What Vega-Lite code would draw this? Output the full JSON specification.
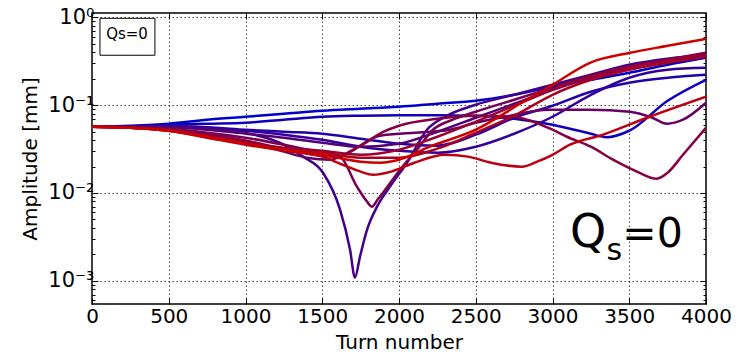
{
"$schema": "https://vega.github.io/schema/vega-lite/v6.json",
"width": 614, "height": 291,
"autosize": {"type": "none"},
"padding": {"left": 92, "top": 13, "right": 35, "bottom": 51},
"background": "white",
"config": {
 "font": "DejaVu Sans",
 "view": {"stroke": "black", "strokeWidth": 1.5},
 "axis": {"domain": false, "labelFont": "DejaVu Sans", "labelFontSize": 20, "labelColor": "black", "titleFont": "DejaVu Sans", "titleFontSize": 20, "titleFontWeight": "normal", "titleColor": "black", "tickColor": "black", "tickWidth": 1, "gridColor": "#444", "gridDash": [1.5, 2.5], "gridWidth": 1}
},
"datasets": {
 "lines": [
 {"s":0,"t":0,"a":0.0567},{"s":0,"t":250,"a":0.0582},{"s":0,"t":500,"a":0.0613},{"s":0,"t":750,"a":0.0681},{"s":0,"t":1000,"a":0.0736},{"s":0,"t":1250,"a":0.0796},{"s":0,"t":1500,"a":0.0861},{"s":0,"t":1750,"a":0.0908},{"s":0,"t":2000,"a":0.0956},{"s":0,"t":2250,"a":0.1035},{"s":0,"t":2500,"a":0.1119},{"s":0,"t":2750,"a":0.1309},{"s":0,"t":3000,"a":0.1614},{"s":0,"t":3250,"a":0.1939},{"s":0,"t":3500,"a":0.2328},{"s":0,"t":3750,"a":0.2871},{"s":0,"t":4000,"a":0.3448},
 {"s":1,"t":0,"a":0.0567},{"s":1,"t":250,"a":0.0574},{"s":1,"t":500,"a":0.0597},{"s":1,"t":750,"a":0.0613},{"s":1,"t":1000,"a":0.0629},{"s":1,"t":1250,"a":0.0681},{"s":1,"t":1500,"a":0.0736},{"s":1,"t":1750,"a":0.0756},{"s":1,"t":2000,"a":0.0766},{"s":1,"t":2250,"a":0.0766},{"s":1,"t":2500,"a":0.0756},{"s":1,"t":2750,"a":0.0699},{"s":1,"t":3000,"a":0.0597},{"s":1,"t":3250,"a":0.0472},{"s":1,"t":3350,"a":0.0431},{"s":1,"t":3500,"a":0.0510},{"s":1,"t":3750,"a":0.1119},{"s":1,"t":4000,"a":0.1939},
 {"s":2,"t":0,"a":0.0567},{"s":2,"t":250,"a":0.0567},{"s":2,"t":500,"a":0.0574},{"s":2,"t":750,"a":0.0559},{"s":2,"t":1000,"a":0.0524},{"s":2,"t":1250,"a":0.0497},{"s":2,"t":1500,"a":0.0472},{"s":2,"t":1750,"a":0.0414},{"s":2,"t":2000,"a":0.0363},{"s":2,"t":2250,"a":0.0345},{"s":2,"t":2500,"a":0.0460},{"s":2,"t":2750,"a":0.0717},{"s":2,"t":3000,"a":0.0982},{"s":2,"t":3250,"a":0.1416},{"s":2,"t":3500,"a":0.1792},{"s":2,"t":3750,"a":0.2043},{"s":2,"t":4000,"a":0.2209},
 {"s":3,"t":0,"a":0.0567},{"s":3,"t":250,"a":0.0567},{"s":3,"t":500,"a":0.0574},{"s":3,"t":750,"a":0.0552},{"s":3,"t":1000,"a":0.0510},{"s":3,"t":1250,"a":0.0460},{"s":3,"t":1500,"a":0.0403},{"s":3,"t":1750,"a":0.0336},{"s":3,"t":2000,"a":0.0302},{"s":3,"t":2250,"a":0.0287},{"s":3,"t":2500,"a":0.0336},{"s":3,"t":2750,"a":0.0472},{"s":3,"t":3000,"a":0.0736},{"s":3,"t":3250,"a":0.1309},{"s":3,"t":3500,"a":0.2043},{"s":3,"t":3750,"a":0.2518},{"s":3,"t":4000,"a":0.2653},
 {"s":4,"t":0,"a":0.0567},{"s":4,"t":250,"a":0.0567},{"s":4,"t":500,"a":0.0567},{"s":4,"t":750,"a":0.0545},{"s":4,"t":1000,"a":0.0484},{"s":4,"t":1250,"a":0.0354},{"s":4,"t":1375,"a":0.0259},{"s":4,"t":1505,"a":0.0170},{"s":4,"t":1616,"a":0.00646},{"s":4,"t":1681,"a":0.00227},{"s":4,"t":1713,"a":0.00109},{"s":4,"t":1746,"a":0.00189},{"s":4,"t":1792,"a":0.00383},{"s":4,"t":1857,"a":0.00699},{"s":4,"t":1941,"a":0.0118},{"s":4,"t":2052,"a":0.0221},{"s":4,"t":2182,"a":0.0524},{"s":4,"t":2300,"a":0.0736},{"s":4,"t":2500,"a":0.1008},{"s":4,"t":2750,"a":0.1309},{"s":4,"t":3000,"a":0.1701},{"s":4,"t":3250,"a":0.2209},{"s":4,"t":3500,"a":0.2871},{"s":4,"t":3750,"a":0.3358},{"s":4,"t":4000,"a":0.3728},
 {"s":5,"t":0,"a":0.0567},{"s":5,"t":250,"a":0.0567},{"s":5,"t":500,"a":0.0559},{"s":5,"t":750,"a":0.0524},{"s":5,"t":1000,"a":0.0472},{"s":5,"t":1250,"a":0.0425},{"s":5,"t":1500,"a":0.0373},{"s":5,"t":1750,"a":0.0336},{"s":5,"t":2000,"a":0.0363},{"s":5,"t":2250,"a":0.0497},{"s":5,"t":2500,"a":0.0717},{"s":5,"t":2750,"a":0.1035},{"s":5,"t":3000,"a":0.1492},{"s":5,"t":3250,"a":0.2043},{"s":5,"t":3500,"a":0.2653},{"s":5,"t":3750,"a":0.3271},{"s":5,"t":4000,"a":0.3928},
 {"s":6,"t":0,"a":0.0567},{"s":6,"t":250,"a":0.0559},{"s":6,"t":500,"a":0.0538},{"s":6,"t":750,"a":0.0472},{"s":6,"t":1000,"a":0.0393},{"s":6,"t":1250,"a":0.0295},{"s":6,"t":1400,"a":0.0252},{"s":6,"t":1550,"a":0.0239},{"s":6,"t":1700,"a":0.0310},{"s":6,"t":1876,"a":0.0448},{"s":6,"t":2100,"a":0.0484},{"s":6,"t":2332,"a":0.0524},{"s":6,"t":2500,"a":0.0629},{"s":6,"t":2658,"a":0.0717},{"s":6,"t":2984,"a":0.0884},{"s":6,"t":3244,"a":0.0884},{"s":6,"t":3505,"a":0.0839},{"s":6,"t":3650,"a":0.0717},{"s":6,"t":3746,"a":0.0613},{"s":6,"t":3850,"a":0.0681},{"s":6,"t":4000,"a":0.1062},
 {"s":7,"t":0,"a":0.0567},{"s":7,"t":250,"a":0.0559},{"s":7,"t":500,"a":0.0538},{"s":7,"t":750,"a":0.0484},{"s":7,"t":1000,"a":0.0425},{"s":7,"t":1250,"a":0.0354},{"s":7,"t":1500,"a":0.0287},{"s":7,"t":1616,"a":0.0259},{"s":7,"t":1726,"a":0.0118},{"s":7,"t":1792,"a":0.00797},{"s":7,"t":1824,"a":0.00699},{"s":7,"t":1860,"a":0.00839},{"s":7,"t":1896,"a":0.01008},{"s":7,"t":2007,"a":0.0184},{"s":7,"t":2117,"a":0.0310},{"s":7,"t":2221,"a":0.0524},{"s":7,"t":2350,"a":0.0681},{"s":7,"t":2500,"a":0.0839},{"s":7,"t":2750,"a":0.1149},{"s":7,"t":3000,"a":0.1573},{"s":7,"t":3250,"a":0.2153},{"s":7,"t":3500,"a":0.2724},{"s":7,"t":3750,"a":0.3187},{"s":7,"t":4000,"a":0.3633},
 {"s":8,"t":0,"a":0.0567},{"s":8,"t":250,"a":0.0552},{"s":8,"t":500,"a":0.0524},{"s":8,"t":750,"a":0.0460},{"s":8,"t":1000,"a":0.0393},{"s":8,"t":1250,"a":0.0319},{"s":8,"t":1500,"a":0.0265},{"s":8,"t":1600,"a":0.0259},{"s":8,"t":1750,"a":0.0345},{"s":8,"t":1900,"a":0.0497},{"s":8,"t":2000,"a":0.0582},{"s":8,"t":2250,"a":0.0699},{"s":8,"t":2500,"a":0.0756},{"s":8,"t":2750,"a":0.0736},{"s":8,"t":2834,"a":0.0681},{"s":8,"t":3000,"a":0.0524},{"s":8,"t":3094,"a":0.0436},{"s":8,"t":3250,"a":0.0336},{"s":8,"t":3394,"a":0.0239},{"s":8,"t":3550,"a":0.0175},{"s":8,"t":3680,"a":0.0145},{"s":8,"t":3750,"a":0.0170},{"s":8,"t":3850,"a":0.0272},{"s":8,"t":4000,"a":0.0552},
 {"s":9,"t":0,"a":0.0567},{"s":9,"t":250,"a":0.0552},{"s":9,"t":500,"a":0.0517},{"s":9,"t":750,"a":0.0448},{"s":9,"t":1000,"a":0.0373},{"s":9,"t":1250,"a":0.0327},{"s":9,"t":1500,"a":0.0302},{"s":9,"t":1750,"a":0.0272},{"s":9,"t":2000,"a":0.0310},{"s":9,"t":2250,"a":0.0436},{"s":9,"t":2500,"a":0.0646},{"s":9,"t":2750,"a":0.0982},{"s":9,"t":3000,"a":0.1492},{"s":9,"t":3250,"a":0.2097},{"s":9,"t":3500,"a":0.2724},{"s":9,"t":3750,"a":0.3271},{"s":9,"t":4000,"a":0.3828},
 {"s":10,"t":0,"a":0.0567},{"s":10,"t":250,"a":0.0552},{"s":10,"t":500,"a":0.0510},{"s":10,"t":750,"a":0.0436},{"s":10,"t":1000,"a":0.0363},{"s":10,"t":1250,"a":0.0310},{"s":10,"t":1500,"a":0.0287},{"s":10,"t":1750,"a":0.0252},{"s":10,"t":2000,"a":0.0252},{"s":10,"t":2250,"a":0.0319},{"s":10,"t":2500,"a":0.0484},{"s":10,"t":2750,"a":0.0756},{"s":10,"t":3000,"a":0.1309},{"s":10,"t":3250,"a":0.1939},{"s":10,"t":3500,"a":0.2518},{"s":10,"t":3750,"a":0.3025},{"s":10,"t":4000,"a":0.3539},
 {"s":11,"t":0,"a":0.0567},{"s":11,"t":250,"a":0.0552},{"s":11,"t":500,"a":0.0510},{"s":11,"t":750,"a":0.0425},{"s":11,"t":1000,"a":0.0354},{"s":11,"t":1250,"a":0.0302},{"s":11,"t":1500,"a":0.0259},{"s":11,"t":1650,"a":0.0204},{"s":11,"t":1750,"a":0.0175},{"s":11,"t":1830,"a":0.0161},{"s":11,"t":1950,"a":0.0175},{"s":11,"t":2100,"a":0.0221},{"s":11,"t":2300,"a":0.0272},{"s":11,"t":2450,"a":0.0259},{"s":11,"t":2600,"a":0.0221},{"s":11,"t":2800,"a":0.0199},{"s":11,"t":2900,"a":0.0227},{"s":11,"t":3000,"a":0.0272},{"s":11,"t":3114,"a":0.0354},{"s":11,"t":3329,"a":0.0460},{"s":11,"t":3616,"a":0.0717},{"s":11,"t":4000,"a":0.1242},
 {"s":12,"t":0,"a":0.0567},{"s":12,"t":250,"a":0.0552},{"s":12,"t":500,"a":0.0510},{"s":12,"t":750,"a":0.0436},{"s":12,"t":1000,"a":0.0363},{"s":12,"t":1250,"a":0.0310},{"s":12,"t":1500,"a":0.0272},{"s":12,"t":1750,"a":0.0227},{"s":12,"t":1876,"a":0.0221},{"s":12,"t":2000,"a":0.0239},{"s":12,"t":2200,"a":0.0336},{"s":12,"t":2500,"a":0.0524},{"s":12,"t":2800,"a":0.1062},{"s":12,"t":3000,"a":0.170},{"s":12,"t":3244,"a":0.3025},{"s":12,"t":3505,"a":0.3928},{"s":12,"t":3750,"a":0.4720},{"s":12,"t":4000,"a":0.5668}
 ]
},
"layer": [
 {
  "data": {"name": "lines"},
  "mark": {"type": "line", "strokeWidth": 2.5, "interpolate": "monotone", "clip": true},
  "encoding": {
   "x": {"field": "t", "type": "quantitative", "scale": {"domain": [0, 4000], "nice": false, "zero": false},
     "axis": {"values": [0,500,1000,1500,2000,2500,3000,3500,4000], "format": "d", "grid": true, "tickSize": -6, "labelPadding": 8, "title": "Turn number", "titlePadding": 6, "labelFlush": false}},
   "y": {"field": "a", "type": "quantitative", "scale": {"type": "log", "domain": [0.000546, 1.114], "nice": false},
     "axis": {"values": [0.0006,0.0007,0.0008,0.0009,0.001,0.002,0.003,0.004,0.005,0.006,0.007,0.008,0.009,0.01,0.02,0.03,0.04,0.05,0.06,0.07,0.08,0.09,0.1,0.2,0.3,0.4,0.5,0.6,0.7,0.8,0.9,1],
       "labelExpr": "abs(log(datum.value)/LN10 - round(log(datum.value)/LN10)) < 0.000001 ? (round(log(datum.value)/LN10) == 0 ? '10⁰' : round(log(datum.value)/LN10) == -1 ? '10⁻¹' : round(log(datum.value)/LN10) == -2 ? '10⁻²' : '10⁻³') : ''",
       "labelFontSize": 21,
       "grid": true,
       "gridOpacity": {"condition": {"test": "abs(log(datum.value)/LN10 - round(log(datum.value)/LN10)) < 0.000001", "value": 1}, "value": 0},
       "tickSize": {"condition": {"test": "abs(log(datum.value)/LN10 - round(log(datum.value)/LN10)) < 0.000001", "value": -6}, "value": -3},
       "labelPadding": 4, "title": "Amplitude [mm]", "titlePadding": 7}},
   "color": {"field": "s", "type": "quantitative", "scale": {"domain": [0, 12], "range": ["#0000cc", "#cc0000"], "interpolate": "rgb"}, "legend": null},
   "detail": {"field": "s", "type": "nominal"}
  }
 },
 {
  "data": {"values": [{"x1": 52, "x2": 410, "y1": 0.970, "y2": 0.3685}]},
  "mark": {"type": "rect", "fill": "white", "stroke": "black", "strokeWidth": 1},
  "encoding": {
   "x": {"field": "x1", "type": "quantitative", "scale": {"domain": [0, 4000], "nice": false, "zero": false},
     "axis": {"orient": "top", "values": [0,500,1000,1500,2000,2500,3000,3500,4000], "labels": false, "tickSize": -6, "title": null, "grid": false}},
   "x2": {"field": "x2"},
   "y": {"field": "y1", "type": "quantitative", "scale": {"type": "log", "domain": [0.000546, 1.114], "nice": false},
     "axis": {"orient": "right", "values": [0.0006,0.0007,0.0008,0.0009,0.001,0.002,0.003,0.004,0.005,0.006,0.007,0.008,0.009,0.01,0.02,0.03,0.04,0.05,0.06,0.07,0.08,0.09,0.1,0.2,0.3,0.4,0.5,0.6,0.7,0.8,0.9,1], "labels": false, "title": null, "grid": false,
       "tickSize": {"condition": {"test": "abs(log(datum.value)/LN10 - round(log(datum.value)/LN10)) < 0.000001", "value": -6}, "value": -3}}},
   "y2": {"field": "y2"}
  }
 },
 {
  "data": {"values": [{"t": 228, "a": 0.64, "label": "Qs=0"}]},
  "mark": {"type": "text", "fontSize": 15, "align": "center", "baseline": "middle", "color": "black"},
  "encoding": {
   "x": {"field": "t", "type": "quantitative", "axis": null},
   "y": {"field": "a", "type": "quantitative", "axis": null},
   "text": {"field": "label"}
  }
 },
 {
  "data": {"values": [{"t": 3114, "a": 0.00243, "label": "Q"}]},
  "mark": {"type": "text", "fontSize": 46, "align": "left", "baseline": "alphabetic", "color": "black"},
  "encoding": {
   "x": {"field": "t", "type": "quantitative", "axis": null},
   "y": {"field": "a", "type": "quantitative", "axis": null},
   "text": {"field": "label"}
  }
 },
 {
  "data": {"values": [{"t": 3455, "a": 0.00243, "label": "=0"}]},
  "mark": {"type": "text", "fontSize": 41, "align": "left", "baseline": "alphabetic", "color": "black"},
  "encoding": {
   "x": {"field": "t", "type": "quantitative", "axis": null},
   "y": {"field": "a", "type": "quantitative", "axis": null},
   "text": {"field": "label"}
  }
 },
 {
  "data": {"values": [{"t": 3352, "a": 0.00173, "label": "s"}]},
  "mark": {"type": "text", "fontSize": 30, "align": "left", "baseline": "alphabetic", "color": "black"},
  "encoding": {
   "x": {"field": "t", "type": "quantitative", "axis": null},
   "y": {"field": "a", "type": "quantitative", "axis": null},
   "text": {"field": "label"}
  }
 }
],
"resolve": {"axis": {"x": "independent", "y": "independent"}}
}
